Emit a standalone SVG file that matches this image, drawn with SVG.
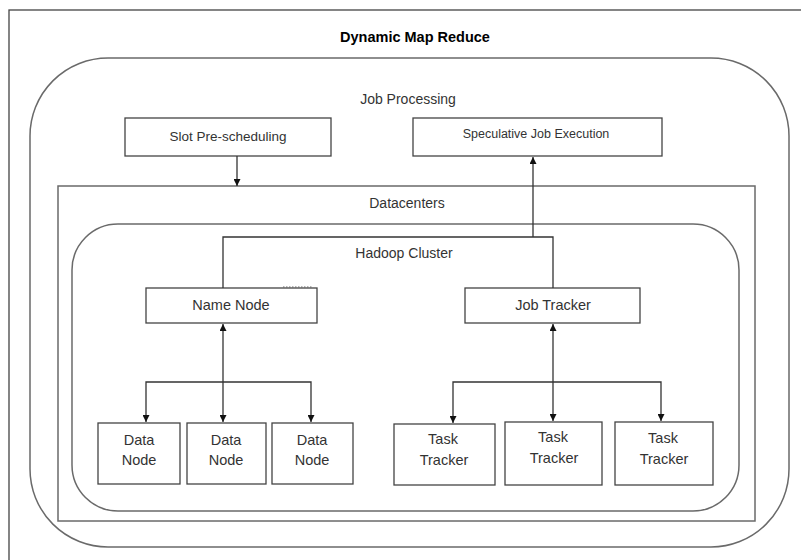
<svg xmlns="http://www.w3.org/2000/svg" width="801" height="560" viewBox="0 0 801 560">
<defs>
<marker id="ah" viewBox="0 0 10 10" refX="10" refY="5" markerWidth="7" markerHeight="7" orient="auto-start-reverse" markerUnits="userSpaceOnUse">
<path d="M0,0 L10,5 L0,10 z" fill="#111"/>
</marker>
<style>
.box{fill:#fff;stroke:#444;stroke-width:1.3}
.cont{fill:none;stroke:#6a6a6a;stroke-width:1.5}
.lbl{font-family:"Liberation Sans",Arial,sans-serif;font-size:14.5px;fill:#333;text-anchor:middle}
.cl{font-size:14px}
.sl{font-size:13.5px}
.sm{font-size:12.5px}
.title{font-family:"Liberation Sans",Arial,sans-serif;font-size:14.5px;font-weight:bold;fill:#000;text-anchor:middle}
.con{fill:none;stroke:#333;stroke-width:1.3}
</style>
</defs>
<rect width="801" height="560" fill="#fff"/>
<g id="frame">
<rect x="9" y="10" width="800" height="560" fill="none" stroke="#444" stroke-width="1.3"/>
<text class="title" x="415" y="42">Dynamic Map Reduce</text>
</g>
<g id="job-processing">
<rect class="cont" x="30" y="58" width="759" height="489" rx="78" ry="78"/>
<text class="lbl cl" x="408" y="104">Job Processing</text>
</g>
<g id="datacenters">
<rect class="cont" x="58" y="186" width="697" height="335"/>
<text class="lbl cl" x="407" y="208">Datacenters</text>
</g>
<g id="hadoop-cluster">
<rect class="cont" x="72" y="224" width="667" height="287" rx="46" ry="46"/>
<text class="lbl cl" x="404" y="258">Hadoop Cluster</text>
</g>
<g id="slot-prescheduling">
<rect class="box" x="125" y="118" width="206" height="38"/>
<text class="lbl sl" x="228" y="141">Slot Pre-scheduling</text>
</g>
<g id="speculative-job-execution">
<rect class="box" x="413" y="118" width="249" height="38"/>
<text class="lbl sm" x="536" y="138">Speculative Job Execution</text>
</g>
<g id="name-node">
<rect class="box" x="146" y="288" width="171" height="35"/>
<text class="lbl" x="231" y="310">Name Node</text>
<line x1="283" y1="287" x2="313" y2="287" stroke="#666" stroke-width="1" stroke-dasharray="1.5,1.5"/>
</g>
<g id="job-tracker">
<rect class="box" x="465" y="288" width="175" height="35"/>
<text class="lbl" x="553" y="310">Job Tracker</text>
</g>
<g id="data-node-1">
<rect class="box" x="98" y="423" width="82" height="61"/>
<text class="lbl" x="139" y="445">Data</text>
<text class="lbl" x="139" y="465">Node</text>
</g>
<g id="data-node-2">
<rect class="box" x="187" y="423" width="79" height="61"/>
<text class="lbl" x="226" y="445">Data</text>
<text class="lbl" x="226" y="465">Node</text>
</g>
<g id="data-node-3">
<rect class="box" x="272" y="423" width="81" height="61"/>
<text class="lbl" x="312" y="445">Data</text>
<text class="lbl" x="312" y="465">Node</text>
</g>
<g id="task-tracker-1">
<rect class="box" x="394" y="424" width="101" height="61"/>
<text class="lbl" x="443" y="444">Task</text>
<text class="lbl" x="444" y="465">Tracker</text>
</g>
<g id="task-tracker-2">
<rect class="box" x="505" y="422" width="97" height="63"/>
<text class="lbl" x="553" y="442">Task</text>
<text class="lbl" x="554" y="463">Tracker</text>
</g>
<g id="task-tracker-3">
<rect class="box" x="615" y="422" width="98" height="63"/>
<text class="lbl" x="663" y="443">Task</text>
<text class="lbl" x="664" y="464">Tracker</text>
</g>
<g id="connectors">
<line class="con" x1="237" y1="156" x2="237" y2="186" marker-end="url(#ah)"/>
<line class="con" x1="533" y1="237" x2="533" y2="157" marker-end="url(#ah)"/>
<polyline class="con" points="223,288 223,237 553,237 553,288"/>
<line class="con" x1="223" y1="324" x2="223" y2="422" marker-start="url(#ah)" marker-end="url(#ah)"/>
<polyline class="con" points="146,422 146,382 311,382 311,422" marker-start="url(#ah)" marker-end="url(#ah)"/>
<line class="con" x1="553" y1="324" x2="553" y2="421" marker-start="url(#ah)" marker-end="url(#ah)"/>
<polyline class="con" points="453,423 453,382 661,382 661,421" marker-start="url(#ah)" marker-end="url(#ah)"/>
</g>
</svg>
